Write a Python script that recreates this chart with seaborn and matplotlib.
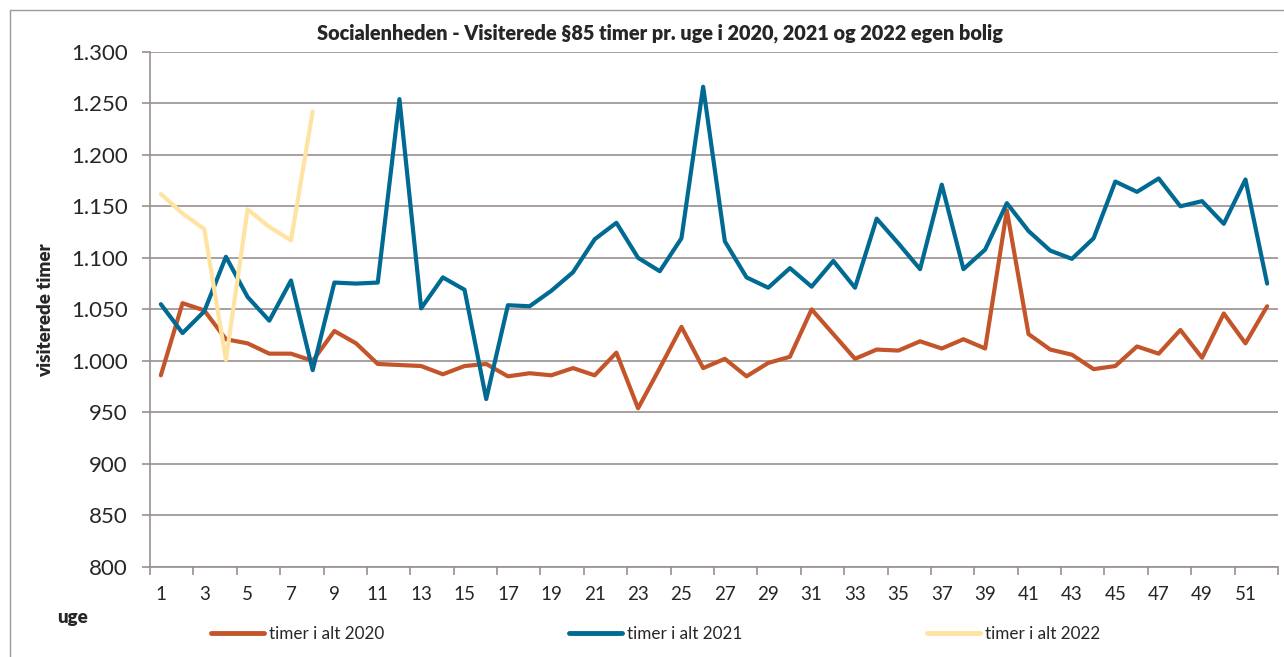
import numpy as np
import pandas as pd
import matplotlib
matplotlib.use("Agg")
import matplotlib.pyplot as plt
from matplotlib.lines import Line2D
from matplotlib.ticker import FixedLocator, FuncFormatter
import seaborn as sns

# ---- data ----
weeks = list(range(1, 53))
t2020 = [986, 1056, 1049, 1021, 1017, 1007, 1007, 1000, 1029, 1017,
         997, 996, 995, 987, 995, 997, 985, 988, 986, 993,
         986, 1008, 954, 993, 1033, 993, 1002, 985, 998, 1004,
         1050, 1026, 1002, 1011, 1010, 1019, 1012, 1021, 1012, 1146,
         1026, 1011, 1006, 992, 995, 1014, 1007, 1030, 1003, 1046,
         1017, 1053]
t2021 = [1055, 1027, 1048, 1101, 1062, 1039, 1078, 991, 1076, 1075,
         1076, 1254, 1051, 1081, 1069, 963, 1054, 1053, 1068, 1086,
         1118, 1134, 1100, 1087, 1119, 1266, 1116, 1081, 1071, 1090,
         1072, 1097, 1071, 1138, 1114, 1089, 1171, 1089, 1108, 1153,
         1126, 1107, 1099, 1119, 1174, 1164, 1177, 1150, 1155, 1133,
         1176, 1075]
t2022 = [1162, 1143, 1128, 1001, 1147, 1130, 1117, 1242]
series_names = ["timer i alt 2020", "timer i alt 2021", "timer i alt 2022"]
x_labels = [str(w) for w in range(1, 53, 2)]
y_ticks = list(range(800, 1301, 50))
title = "Socialenheden - Visiterede §85 timer pr. uge i 2020, 2021 og 2022 egen bolig"
ylabel = "visiterede timer"
xlabel = "uge"

colors = {series_names[0]: "#C4552B", series_names[1]: "#006A92", series_names[2]: "#FFE3A1"}

df = pd.concat([
    pd.DataFrame({"uge": weeks, "timer": t2020, "serie": series_names[0]}),
    pd.DataFrame({"uge": weeks, "timer": t2021, "serie": series_names[1]}),
    pd.DataFrame({"uge": weeks[:len(t2022)], "timer": t2022, "serie": series_names[2]}),
], ignore_index=True)

sns.set_style("white")
plt.rcParams["font.family"] = ["Lato", "DejaVu Sans"]

W, H = 1284, 657
fig = plt.figure(figsize=(W / 100, H / 100), dpi=100)
ax = fig.add_axes([150 / W, 1 - 567 / H, (1278 - 150) / W, (567 - 51.7) / H])

sns.lineplot(data=df, x="uge", y="timer", hue="serie", palette=colors,
             hue_order=series_names, linewidth=3.0, legend=False, ax=ax,
             estimator=None, sort=False)

ax.set_xlim(0.5, 52.5)
ax.set_ylim(800, 1300)

grid_c = "#9A8F8F"
for sp in ["top", "right"]:
    ax.spines[sp].set_visible(False)
for sp in ["left", "bottom"]:
    ax.spines[sp].set_color(grid_c)
    ax.spines[sp].set_linewidth(1.2)

ax.yaxis.set_major_locator(FixedLocator(y_ticks))
ax.yaxis.set_major_formatter(FuncFormatter(lambda v, p: f"{int(v):,}".replace(",", ".")))
ax.grid(axis="y", color=grid_c, linewidth=1.2)
ax.set_axisbelow(True)
ax.tick_params(axis="y", which="major", direction="out", length=6, width=1.2,
               color=grid_c, labelsize=16, pad=10, left=True)

ax.xaxis.set_major_locator(FixedLocator(list(range(1, 53, 2))))
ax.set_xticklabels(x_labels)
ax.xaxis.set_minor_locator(FixedLocator([0.5 + 2 * k for k in range(27)]))
ax.tick_params(axis="x", which="major", length=0, labelsize=13.5, pad=14, bottom=True)
ax.tick_params(axis="x", which="minor", direction="out", length=6, width=1.2,
               color=grid_c, bottom=True)

ax.set_xlabel("")
ax.set_ylabel("")

fig.text(660 / W, 1 - 33 / H, title, ha="center", va="center",
         fontsize=14.3, fontweight="heavy")
fig.text(46 / W, 1 - 310 / H, ylabel, ha="center", va="center",
         rotation=90, fontsize=13.5, fontweight="heavy")
fig.text(57 / W, 1 - 617 / H, xlabel, ha="left", va="center",
         fontsize=13.5, fontweight="heavy")

# legend entries
handles = [Line2D([], [], color=colors[n], linewidth=3.5) for n in series_names]
for i, (h, n) in enumerate(zip(handles, series_names)):
    fig.legend([h], [n], loc="center left",
               bbox_to_anchor=((211 + 358 * i) / W, 1 - 634 / H),
               frameon=False, fontsize=12.3, handlelength=3.1,
               handletextpad=0.3, borderaxespad=0, borderpad=0)

# outer frame of the chart area
fig.add_artist(Line2D([9.5 / W, 9.5 / W], [0, 1 - 10 / H], transform=fig.transFigure,
                      color="#9A9A9A", linewidth=1))
fig.add_artist(Line2D([9.5 / W, 1], [1 - 10 / H, 1 - 10 / H], transform=fig.transFigure,
                      color="#9A9A9A", linewidth=1))

fig.savefig("out.png", dpi=100)
